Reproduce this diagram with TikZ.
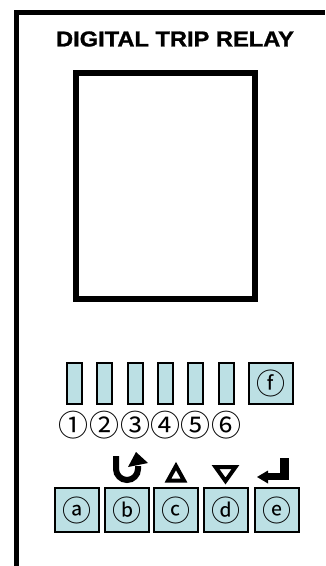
\documentclass[tikz,border=0pt]{standalone}
\usepackage{fontspec}
\setmainfont{Liberation Sans}
\newfontfamily\titlefont{Liberation Sans Bold}[FakeBold=1.2]
\newfontfamily\circfont{Noto Sans CJK SC}
\definecolor{keyblue}{RGB}{188,224,228}
\tikzset{
  ledbar/.style={draw=black, line width=2pt, fill=keyblue, minimum width=15pt, minimum height=41pt, inner sep=0pt},
  keybox/.style={draw=black, line width=2pt, fill=keyblue, minimum width=44pt, minimum height=44pt, inner sep=0pt, font=\circfont\fontsize{29}{29}\selectfont},
  numlabel/.style={font=\circfont\fontsize{30}{30}\selectfont, inner sep=0pt},
  sym/.style={fill=black, draw=none}
}
\begin{document}
\begin{tikzpicture}[x=1pt,y=-1pt]
\useasboundingbox (0,0) rectangle (325,566);
% frame
\draw[line width=5pt] (16,566) -- (16,12.5) -- (325,12.5);
% title
\node[font=\titlefont\fontsize{21.5}{21.5}\selectfont, xscale=1.1, inner sep=0pt] (title) at (175,39) {DIGITAL TRIP RELAY};
% display
\draw[line width=5.5pt] (76,73) rectangle (255,299);
% LED bars
\foreach \i/\x in {1/74,2/104,3/135,4/165,5/195,6/226}{
  \node[ledbar] (led\i) at (\x,383.5) {};
}
\node[keybox, minimum width=44pt, minimum height=41pt] (f) at (271,383.5) {ⓕ};
% numbers
\node[numlabel] (n1) at (74,425) {①};
\node[numlabel] (n2) at (104,425) {②};
\node[numlabel] (n3) at (135,425) {③};
\node[numlabel] (n4) at (165,425) {④};
\node[numlabel] (n5) at (195,425) {⑤};
\node[numlabel] (n6) at (226,425) {⑥};
% keys
\node[keybox] (a) at (77,510) {ⓐ};
\node[keybox] (b) at (127,510) {ⓑ};
\node[keybox] (c) at (176,510) {ⓒ};
\node[keybox] (d) at (226,510) {ⓓ};
\node[keybox] (e) at (276.5,510) {ⓔ};
% symbol b: U-turn arrow
\draw[line width=6pt] (116,456) -- (116,469) arc[start angle=180, end angle=0, radius=11] -- (138,466);
\fill (128,467) -- (148,463) -- (136,452) -- cycle;
% symbol c: up triangle
\draw[line width=4pt, line join=miter] (176,466) -- (168,480.5) -- (184,480.5) -- cycle;
% symbol d: down triangle
\draw[line width=4pt, line join=miter] (215.5,467) -- (235.5,467) -- (225.5,481) -- cycle;
% symbol e: return arrow
\fill (280,458) rectangle (289,480);
\fill (266,473) rectangle (289,480);
\fill (257,477) -- (268,470.5) -- (268,483.5) -- cycle;
\end{tikzpicture}
\end{document}
